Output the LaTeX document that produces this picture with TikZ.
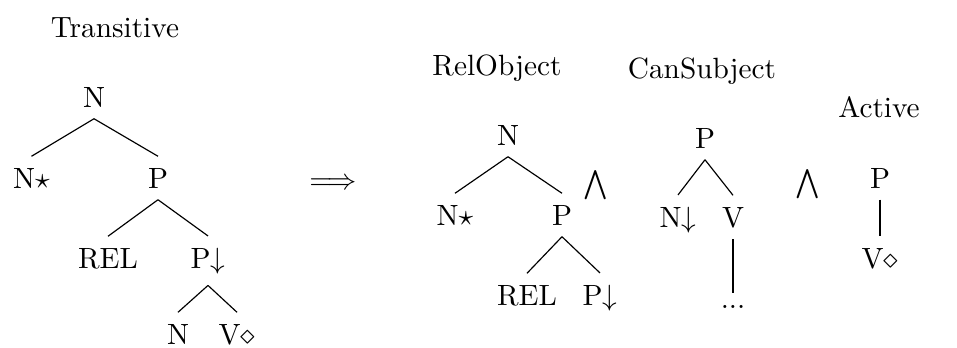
\documentclass[tikz,border=0pt]{standalone}
\usepackage{tikz}

\begin{document}
\begin{tikzpicture}[x=0.3413pt, y=-0.3413pt]
	% styles
	\tikzset{
		tnode/.style={anchor=base, inner sep=3.8pt},
		title/.style={anchor=base, inner sep=0pt},
		op/.style={anchor=base, inner sep=0pt}
	}
	\useasboundingbox (0,0) rectangle (957,347);

	% Transitive tree
	\node[title] (transitive) at (115,37) {Transitive};
	\node[tnode] (tN) at (94,107) {N};
	\node[tnode] (tNstar) at (31.5,188) {N$\star$};
	\node[tnode] (tP) at (158,188) {P};
	\node[tnode] (tREL) at (108,268) {REL};
	\node[tnode] (tPsub) at (208,268) {P$\downarrow$};
	\node[tnode] (tNleaf) at (178,344) {N};
	\node[tnode] (tVanc) at (237,344) {V$\diamond$};

	% rewrite arrow
	\node[op] (implies) at (333,189.3) {$\Longrightarrow$};

	% RelObject tree
	\node[title] (relobject) at (497,75) {RelObject};
	\node[tnode] (rN) at (508,145) {N};
	\node[tnode] (rNstar) at (455,225) {N$\star$};
	\node[tnode] (rP) at (562,225) {P};
	\node[tnode] (rREL) at (527,305) {REL};
	\node[tnode] (rPsub) at (600,305) {P$\downarrow$};
	\node[op] (and1) at (596,192.7) {$\bigwedge$};

	% CanSubject tree
	\node[title] (cansubject) at (702,78) {CanSubject};
	\node[tnode] (cP) at (705,148) {P};
	\node[tnode] (cNsub) at (678,227) {N$\downarrow$};
	\node[tnode] (cV) at (733,227) {V};
	\node[tnode] (cdots) at (733,308) {...};
	\node[op] (and2) at (808,191) {$\bigwedge$};

	% Active tree
	\node[title] (active) at (879,117) {Active};
	\node[tnode] (aP) at (880,188) {P};
	\node[tnode] (aVanc) at (880,268) {V$\diamond$};

	% connections
	\draw (tN.south) -- (tNstar.north);
	\draw (tN.south) -- (tP.north);
	\draw (tP.south) -- (tREL.north);
	\draw (tP.south) -- (tPsub.north);
	\draw (tPsub.south) -- (tNleaf.north);
	\draw (tPsub.south) -- (tVanc.north);

	\draw (rN.south) -- (rNstar.north);
	\draw (rN.south) -- (rP.north);
	\draw (rP.south) -- (rREL.north);
	\draw (rP.south) -- (rPsub.north);

	\draw (cP.south) -- (cNsub.north);
	\draw (cP.south) -- (cV.north);
	\draw (cV.south) -- (cdots.north);

	\draw (aP.south) -- (aVanc.north);
\end{tikzpicture}
\end{document}
